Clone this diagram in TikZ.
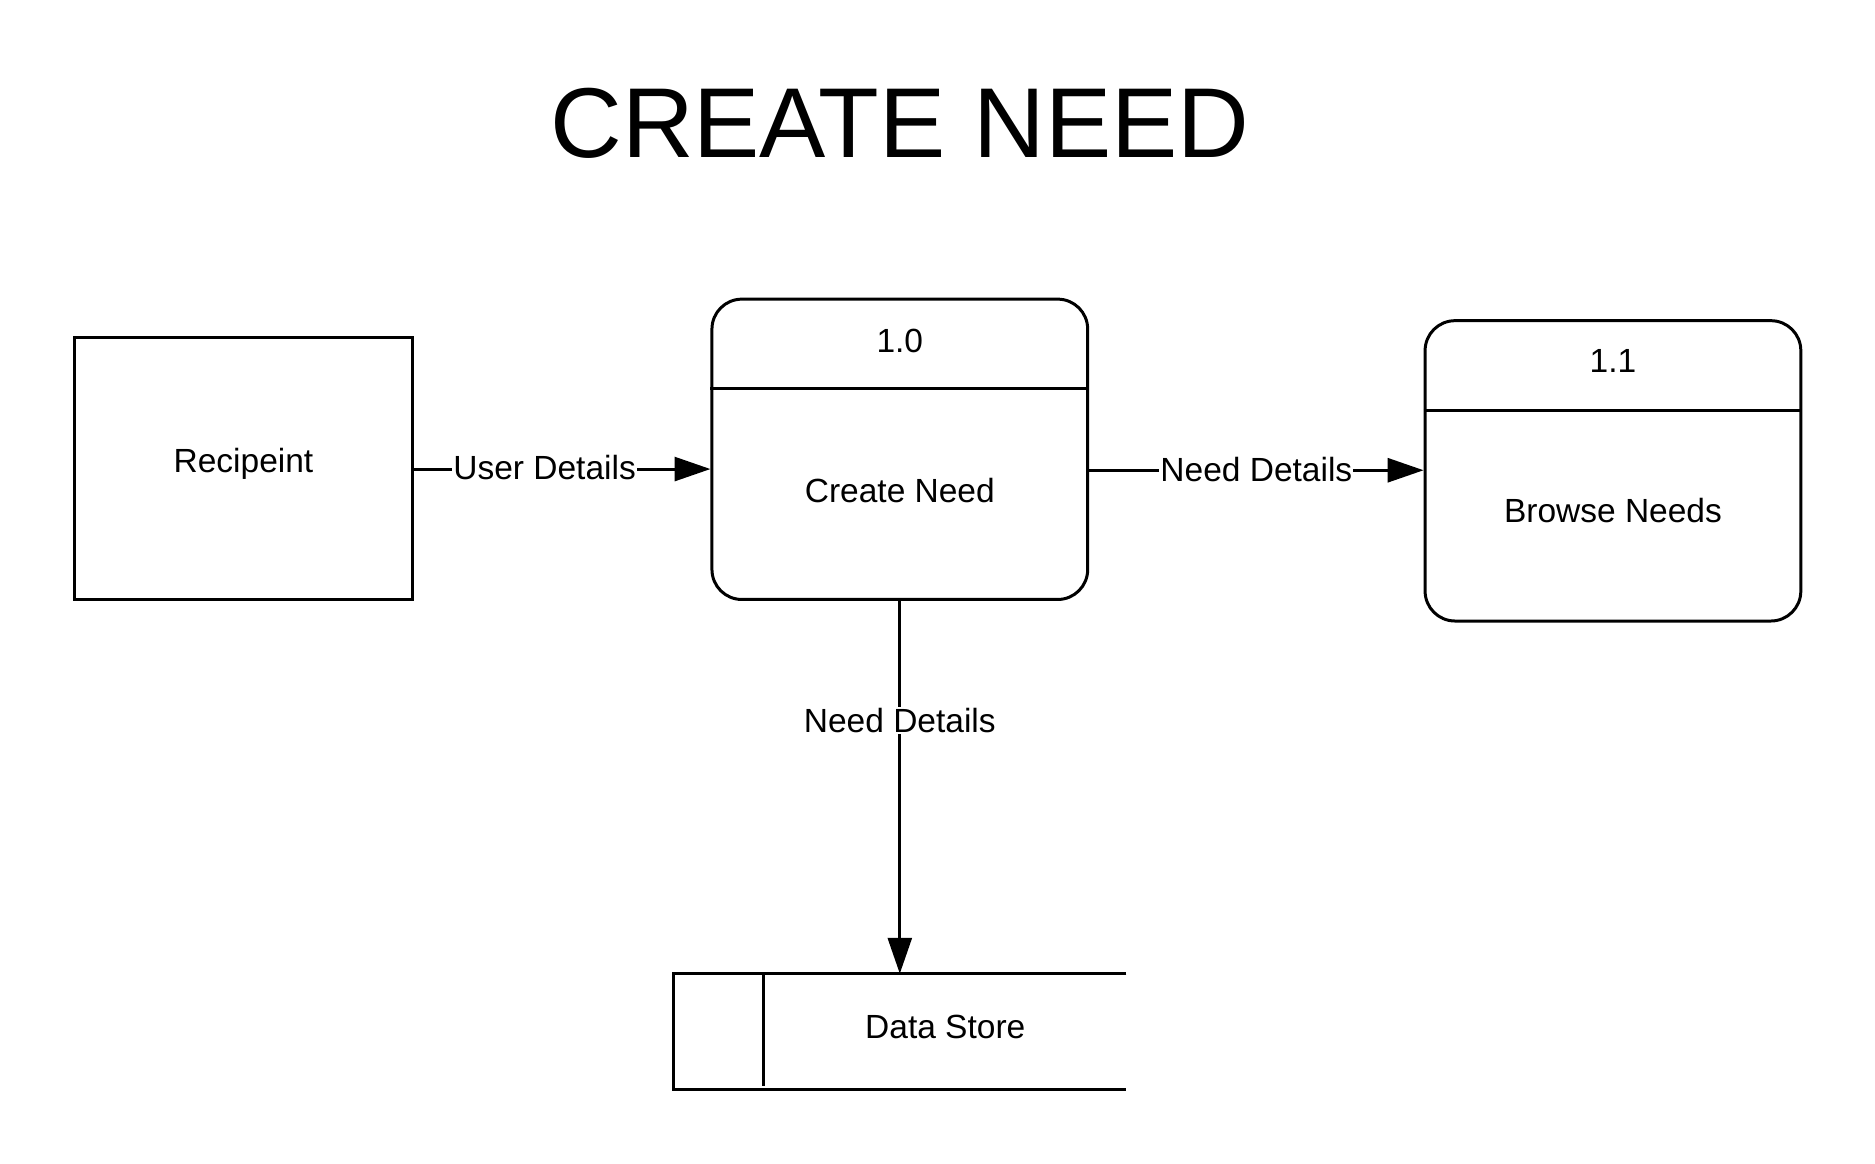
\documentclass[tikz,border=0pt]{standalone}
\usepackage{fontspec}
\setmainfont{Liberation Sans}
\usetikzlibrary{arrows.meta}
\begin{document}
\begin{tikzpicture}[x=1pt,y=-1pt,line width=2.5pt,
    txt/.style={font=\fontsize{28}{34}\selectfont},
    entity/.style={draw,minimum width=283pt,minimum height=219pt,inner sep=0pt},
    process/.style={draw,rounded corners=25pt,minimum width=314pt,minimum height=251pt,inner sep=0pt},
    flow/.style={-{Triangle[length=30pt,width=20pt]}},
    flowlabel/.style={txt,fill=white,inner sep=1pt}]
    \useasboundingbox (0,0) rectangle (1567,972);
    \node[anchor=base,font=\fontsize{83}{96}\selectfont] (title) at (752,132) {CREATE NEED};
    % boxes
    \node[entity] (recip) at (203.5,391.5) {};
    \node[txt] (recipText) at (203.5,388) {Recipeint};
    \node[process] (create) at (752,375.5) {};
    \draw (create.west |- 0,325) -- (create.east |- 0,325);
    \node[txt] (createNum) at (752,285) {1.0};
    \node[txt] (createText) at (752,410) {Create Need};
    \node[process] (browse) at (1348,393.5) {};
    \draw (browse.west |- 0,343) -- (browse.east |- 0,343);
    \node[txt] (browseNum) at (1348,302) {1.1};
    \node[txt] (browseText) at (1348,427) {Browse Needs};
    % data store
    \node[minimum width=376pt,minimum height=94pt,inner sep=0pt] (store) at (752,862) {};
    \draw (store.north east) -- (store.north west) -- (store.south west) -- (store.south east);
    \draw (store.north west) ++(75,0) -- ++(0,94);
    \node[txt] (storeText) at (790,858) {Data Store};
    % flows
    \draw[flow] (recip.east |- 0,392) -- (create.west |- 0,392) node[flowlabel,pos=0.44,yshift=1pt] (userFlow) {User Details};
    \draw[flow] (create.east |- 0,393) -- (browse.west |- 0,393) node[flowlabel,pos=0.5,yshift=1pt] (needFlow) {Need Details};
    \draw[flow] (create) -- (store) node[flowlabel,pos=0.32] (storeFlow) {Need Details};
\end{tikzpicture}
\end{document}
